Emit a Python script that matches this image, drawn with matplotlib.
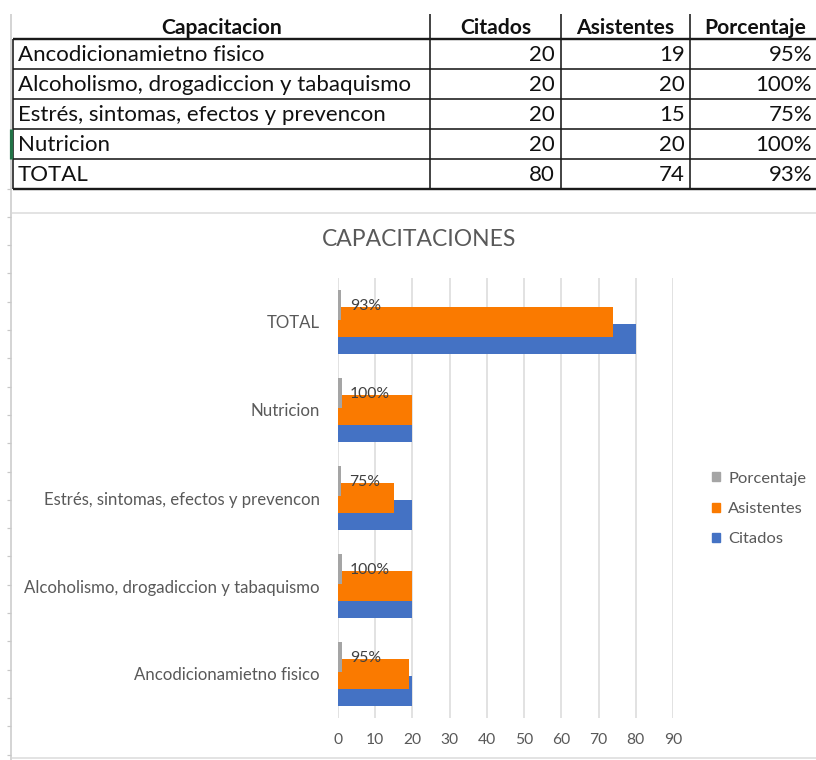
import numpy as np
import matplotlib
matplotlib.use("Agg")
import matplotlib.pyplot as plt
from matplotlib.patches import Patch

# ---------------- data ----------------
categories = ["Ancodicionamietno fisico",
              "Alcoholismo, drogadiccion y tabaquismo",
              "Estrés, sintomas, efectos y prevencon",
              "Nutricion",
              "TOTAL"]
citados = [20, 20, 20, 20, 80]
asistentes = [19, 20, 15, 20, 74]
porcentaje = [0.95, 1.00, 0.75, 1.00, 0.93]
pct_labels = ["95%", "100%", "75%", "100%", "93%"]
col_headers = ["Capacitacion", "Citados", "Asistentes", "Porcentaje"]
chart_title = "CAPACITACIONES"
x_ticks = [0, 10, 20, 30, 40, 50, 60, 70, 80, 90]

# ---------------- style ----------------
BLUE = "#4472C4"
ORANGE = "#FA7A00"
GREY = "#A5A5A5"
TXT = "#595959"
GRID = "#D9D9D9"
FONT = "Lato"

W, H = 816, 760
fig = plt.figure(figsize=(W / 100, H / 100), dpi=100)
fig.patch.set_facecolor("white")
renderer = fig.canvas.get_renderer()


def fit(s, target_px, **kw):
    t = fig.text(0, 0, s, fontsize=10, family=FONT, **kw)
    w = t.get_window_extent(renderer).width
    t.remove()
    return 10 * target_px / w


# ---------- sheet / table layer (pixel coordinates) ----------
bg = fig.add_axes([0, 0, 1, 1])
bg.set_xlim(0, W)
bg.set_ylim(H, 0)
bg.axis("off")

px = 72 / 100  # points per pixel


def hline(y, x0, x1, lw=1.4, c="#1a1a1a"):
    bg.plot([x0, x1], [y, y], color=c, lw=lw * px, solid_capstyle="butt")


def vline(x, y0, y1, lw=1.4, c="#1a1a1a"):
    bg.plot([x, x], [y0, y1], color=c, lw=lw * px, solid_capstyle="butt")


# excel row-header edge with small row ticks
vline(11, 14, H, lw=1.5, c="#C8C8C8")
for yy in np.arange(188.5, H, 28.3):
    hline(yy, 7, 11, lw=1.2, c="#C8C8C8")

# table grid
col_x = [12.5, 430, 561, 690, 817]
row_y = [14, 39, 69, 99, 129, 159, 188.5]
hline(row_y[1], 12.5, W, lw=2.4)
for yy in row_y[2:-1]:
    hline(yy, 12.5, W, lw=1.6)
hline(row_y[-1], 12.5, W, lw=2.4)
for xx in col_x[1:4]:
    vline(xx, row_y[0], row_y[-1], lw=1.6)
vline(col_x[0], row_y[1], row_y[-1], lw=1.6)
# selected-cell marker
vline(10.5, row_y[4], row_y[5], lw=3.2, c="#217346")

fs_tab = fit("Alcoholismo, drogadiccion y tabaquismo", 394)
centers = [(row_y[i] + row_y[i + 1]) / 2 for i in range(len(row_y) - 1)]
hdr_x = [(col_x[i] + col_x[i + 1]) / 2 for i in range(4)]
hdr_x[3] = 755
for j, h in enumerate(col_headers):
    bg.text(hdr_x[j], centers[0] + 1, h, ha="center", va="center",
            fontsize=fs_tab * 0.95, fontweight="bold", family=FONT, color="#111111")
for i, cat in enumerate(categories):
    yc = centers[i + 1] + 1
    bg.text(18, yc, cat, ha="left", va="center", fontsize=fs_tab,
            family=FONT, color="#111111")
    bg.text(555, yc, f"{citados[i]}", ha="right", va="center",
            fontsize=fs_tab, family=FONT, color="#111111")
    bg.text(685, yc, f"{asistentes[i]}", ha="right", va="center",
            fontsize=fs_tab, family=FONT, color="#111111")
    bg.text(812, yc, pct_labels[i], ha="right", va="center",
            fontsize=fs_tab, family=FONT, color="#111111")

# chart frame lines
hline(213, 12, W, lw=1.5, c="#DADADA")
hline(758, 12, W, lw=1.5, c="#DADADA")

# chart title
fs_title = fit(chart_title, 192)
bg.text(419, 240, chart_title, ha="center", va="center", fontsize=fs_title,
        family=FONT, color=TXT)

# ---------------- chart ----------------
ax = fig.add_axes([338 / W, 1 - 718 / H, 335 / W, 440 / H])
ax.set_facecolor("none")
y = np.arange(len(categories))
h = 0.34
off = 0.197
ax.barh(y - off, citados, height=h, color=BLUE, zorder=2, label="Citados")
ax.barh(y, asistentes, height=h, color=ORANGE, zorder=3, label="Asistentes")
ax.barh(y + off, porcentaje, height=h, color=GREY, zorder=4, label="Porcentaje")

fs_lab = fit("100%", 40)
for yi, p, lab in zip(y, porcentaje, pct_labels):
    ax.annotate(lab, xy=(p, yi + off), xytext=(6, -1), textcoords="offset points",
                ha="left", va="center", fontsize=fs_lab, family=FONT,
                color="#404040", zorder=5)

ax.set_xlim(0, 90)
ax.set_ylim(-0.5, len(categories) - 0.5)
ax.set_xticks(x_ticks)
ax.set_yticks(y)
ax.set_yticklabels(categories)
ax.grid(axis="x", color=GRID, lw=1.5 * px, zorder=0)
ax.set_axisbelow(True)
for s in ax.spines.values():
    s.set_visible(False)

fs_tick = fit("90", 18)
fs_ylab = fit("Alcoholismo, drogadiccion y tabaquismo", 296)
ax.tick_params(axis="x", length=0, labelsize=fs_tick, labelcolor=TXT,
               pad=(23 - fs_tick / px / 2 * 1.0) * px)
ax.tick_params(axis="y", length=0, labelsize=fs_ylab, labelcolor=TXT,
               pad=18 * px)
for t in ax.get_xticklabels() + ax.get_yticklabels():
    t.set_family(FONT)

# legend
fs_leg = fit("Porcentaje", 78)
handles = [Patch(color=GREY, label="Porcentaje"),
           Patch(color=ORANGE, label="Asistentes"),
           Patch(color=BLUE, label="Citados")]
fpx = fs_leg / px
leg = ax.legend(handles=handles, loc="center left",
                bbox_to_anchor=(712 / W, 1 - 509 / H),
                bbox_transform=fig.transFigure, frameon=False,
                borderpad=0, borderaxespad=0,
                handlelength=8 / fpx, handleheight=8 / fpx,
                handletextpad=8 / fpx, labelspacing=1.0,
                prop={"family": FONT, "size": fs_leg})
for t in leg.get_texts():
    t.set_color(TXT)

fig.savefig("out.png", dpi=100, facecolor="white")
